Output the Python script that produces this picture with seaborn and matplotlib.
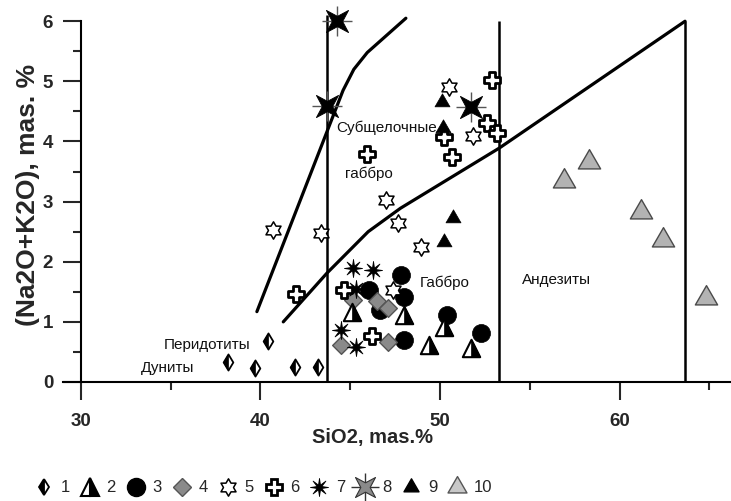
import numpy as np
import matplotlib
matplotlib.use("Agg")
import matplotlib.pyplot as plt
from matplotlib.path import Path
from matplotlib.markers import MarkerStyle
from matplotlib.lines import Line2D
from matplotlib.legend_handler import HandlerTuple
from matplotlib.ticker import MultipleLocator
import seaborn as sns

# ---- sample groups: SiO2 (wt.%) and Na2O+K2O (wt.%) ----
sio2_1 = [40.4, 38.2, 39.7, 41.9, 43.2]
alk_1 = [0.68, 0.33, 0.23, 0.25, 0.25]

sio2_2 = [45.08, 47.99, 50.2, 49.4, 51.7]
alk_2 = [1.17, 1.11, 0.92, 0.62, 0.56]

sio2_3 = [47.81, 46.04, 47.99, 46.66, 48.0, 50.37, 52.3]
alk_3 = [1.78, 1.53, 1.42, 1.2, 0.70, 1.11, 0.81]

sio2_4 = [45.17, 46.47, 47.12, 44.5, 47.1]
alk_4 = [1.36, 1.34, 1.23, 0.62, 0.67]

sio2_5 = [40.71, 43.37, 46.99, 47.64, 48.94, 50.5, 51.86, 47.4]
alk_5 = [2.53, 2.47, 3.03, 2.64, 2.25, 4.91, 4.09, 1.53]

sio2_6 = [45.91, 52.9, 52.6, 53.16, 50.24, 50.65, 41.96, 44.67, 46.2]
alk_6 = [3.80, 5.03, 4.31, 4.14, 4.08, 3.75, 1.46, 1.53, 0.77]

sio2_7 = [45.13, 46.29, 44.5, 45.3, 45.3]
alk_7 = [1.89, 1.86, 0.86, 0.58, 1.55]

sio2_8 = [44.25, 43.7, 51.7]
alk_8 = [6.01, 4.59, 4.58]

sio2_9 = [50.09, 50.15, 50.74, 50.24]
alk_9 = [4.66, 4.22, 2.72, 2.33]

sio2_10 = [58.3, 56.9, 61.2, 62.4, 64.8]
alk_10 = [3.66, 3.35, 2.82, 2.36, 1.39]

legend_labels = ["1", "2", "3", "4", "5", "6", "7", "8", "9", "10"]

# ---- field boundaries ----
upper_curve_x = [39.8, 44.6, 45.2, 45.95, 48.1]
upper_curve_y = [1.17, 4.85, 5.2, 5.48, 6.05]
lower_curve_x = [41.27, 43.7, 46.0, 47.8, 53.3, 63.65]
lower_curve_y = [1.0, 1.81, 2.5, 2.89, 3.89, 6.0]
divider_x = [43.7, 53.3, 63.65]
divider_top = [6.1, 6.0, 6.0]

field_names = ["Субщелочные", "габбро", "Габбро", "Андезиты", "Перидотиты", "Дуниты"]
field_x = [47.05, 46.02, 50.26, 56.5, 37.0, 34.8]
field_y = [4.22, 3.46, 1.65, 1.70, 0.62, 0.23]

# ---- custom marker shapes ----
def star_path(n, inner, start_deg):
    verts = []
    for k in range(2 * n):
        ang = np.deg2rad(start_deg + 180.0 / n * k)
        r = 1.0 if k % 2 == 0 else inner
        verts.append((r * np.cos(ang), r * np.sin(ang)))
    verts.append(verts[0])
    codes = [Path.MOVETO] + [Path.LINETO] * (2 * n - 1) + [Path.CLOSEPOLY]
    return Path(verts, codes)

hexagram = star_path(6, 1 / np.sqrt(3), 90)
asterisk8 = star_path(8, 0.28, 90)
star4 = star_path(4, 0.33, 45)
tri = Path([(0, 1), (-0.866, -0.5), (0.866, -0.5), (0, 1)],
           [Path.MOVETO, Path.LINETO, Path.LINETO, Path.CLOSEPOLY])

sns.set_style("ticks")
plt.rcParams["font.family"] = ["Liberation Sans", "DejaVu Sans"]

fig = plt.figure(figsize=(7.31, 5.01), dpi=100)
ax = fig.add_axes([63 / 731, 119 / 501, 668 / 731, 0.7321])
ax.set_xlim(29, 66.21)
ax.set_ylim(0, 6.1)

# boundaries
sns.lineplot(x=upper_curve_x, y=upper_curve_y, sort=False, estimator=None,
             color="black", lw=2.3, ax=ax, zorder=2)
sns.lineplot(x=lower_curve_x, y=lower_curve_y, sort=False, estimator=None,
             color="black", lw=2.3, ax=ax, zorder=2)
ax.vlines(divider_x, 0, divider_top, color="black", lw=1.8, zorder=2)

def pts(x, y, marker, s, face, edge, lw, z):
    sns.scatterplot(x=x, y=y, marker=marker, s=s, color=face, edgecolor=edge,
                    linewidth=lw, ax=ax, zorder=z, clip_on=False, legend=False)

ms = {1: 8.2, 2: 12.5, 3: 13, 4: 9, 5: 12.5, 6: 11.5, 7: 13, 8: 16, 9: 12.5, 10: 18.5}

# 3: circles
pts(sio2_3, alk_3, "o", ms[3] ** 2, "black", "black", 0.5, 3)
# 4: grey diamonds
pts(sio2_4, alk_4, "D", ms[4] ** 2, "#8a8a8a", "#555555", 1.0, 4)
# 2: half-filled triangles
pts(sio2_2, alk_2, "^", ms[2] ** 2, "white", "black", 1.5, 5)
pts(sio2_2, alk_2, MarkerStyle("^", fillstyle="right"), ms[2] ** 2, "black", "black", 0.5, 5.1)
# 1: half-filled thin diamonds
pts(sio2_1, alk_1, "d", ms[1] ** 2, "white", "black", 1.3, 5)
pts(sio2_1, alk_1, MarkerStyle("d", fillstyle="left"), ms[1] ** 2, "black", "black", 0.5, 5.1)
# 5: hexagrams
pts(sio2_5, alk_5, hexagram, ms[5] ** 2, "white", "black", 1.1, 6)
# 7: asterisks
pts(sio2_7, alk_7, asterisk8, ms[7] ** 2, "black", "black", 0.6, 6)
# 6: crosses
pts(sio2_6, alk_6, "P", ms[6] ** 2, "white", "black", 2.0, 7)
# 8: stars with thin cross
pts(sio2_8, alk_8, "+", 22 ** 2, "#555555", "#555555", 1.0, 7)
pts(sio2_8, alk_8, star4, ms[8] ** 2, "black", "black", 0.6, 7.1)
# 9: black triangles
pts(sio2_9, alk_9, tri, ms[9] ** 2, "black", "black", 0.5, 7)
# 10: grey triangles
pts(sio2_10, alk_10, tri, ms[10] ** 2, "#b3b3b3", "#4a4a4a", 1.0, 7)

for name, tx, ty in zip(field_names, field_x, field_y):
    ax.text(tx, ty, name, fontsize=11, ha="center", va="center", color="#111111", zorder=8)

# axes styling
for side in ("top", "right"):
    ax.spines[side].set_visible(False)
ax.spines["left"].set_position(("data", 30))
ax.spines["left"].set_bounds(0, 6)
for side in ("left", "bottom"):
    ax.spines[side].set_linewidth(1.5)
    ax.spines[side].set_color("black")

ax.set_xticks([30, 40, 50, 60])
ax.xaxis.set_minor_locator(MultipleLocator(5))
ax.set_yticks(range(0, 7))
ax.yaxis.set_minor_locator(MultipleLocator(0.5))
ax.tick_params(axis="x", which="major", length=13, width=1.5, pad=9,
               labelsize=13.5, direction="out")
ax.tick_params(axis="x", which="minor", length=6, width=1.5, direction="out")
ax.tick_params(axis="y", which="major", length=13, width=1.5, pad=7,
               labelsize=13.5, direction="out")
ax.tick_params(axis="y", which="minor", length=6, width=1.5, direction="out")
for lab in ax.get_xticklabels() + ax.get_yticklabels():
    lab.set_fontweight("bold")

ax.set_xlabel("SiO2, mas.%", fontsize=14.5, fontweight="bold")
ax.xaxis.set_label_coords(0.4626, -0.125)
ax.set_ylabel("(Na2O+K2O), mas. %", fontsize=19, fontweight="bold")
ax.yaxis.set_label_coords(-0.034, 0.51)

# legend
handles = [
    Line2D([], [], ls="none", marker="d", ms=ms[1], fillstyle="left", mfc="black",
           markerfacecoloralt="white", mec="black", mew=1.3),
    Line2D([], [], ls="none", marker="^", ms=ms[2], fillstyle="right", mfc="black",
           markerfacecoloralt="white", mec="black", mew=1.5),
    Line2D([], [], ls="none", marker="o", ms=ms[3], mfc="black", mec="black"),
    Line2D([], [], ls="none", marker="D", ms=ms[4], mfc="#8a8a8a", mec="#555555", mew=1.0),
    Line2D([], [], ls="none", marker=hexagram, ms=ms[5], mfc="white", mec="black", mew=1.1),
    Line2D([], [], ls="none", marker="P", ms=ms[6], mfc="white", mec="black", mew=2.0),
    Line2D([], [], ls="none", marker=asterisk8, ms=ms[7], mfc="black", mec="black", mew=0.6),
    (Line2D([], [], ls="none", marker="+", ms=20, mec="#333333", mew=1.0),
     Line2D([], [], ls="none", marker=star4, ms=ms[8] * 0.9, mfc="#8a8a8a", mec="#333333", mew=0.8)),
    Line2D([], [], ls="none", marker=tri, ms=ms[9], mfc="black", mec="black"),
    Line2D([], [], ls="none", marker=tri, ms=ms[10] * 0.85, mfc="#c8c8c8", mec="#555555", mew=1.0),
]
fig.legend(handles, legend_labels, ncol=10, loc="center", bbox_to_anchor=(0.36, 0.026),
           frameon=False, fontsize=12, handlelength=1.2, handletextpad=0.4,
           columnspacing=0.6, borderpad=0, handler_map={tuple: HandlerTuple(ndivide=1)})

fig.savefig("out.png", dpi=100)
